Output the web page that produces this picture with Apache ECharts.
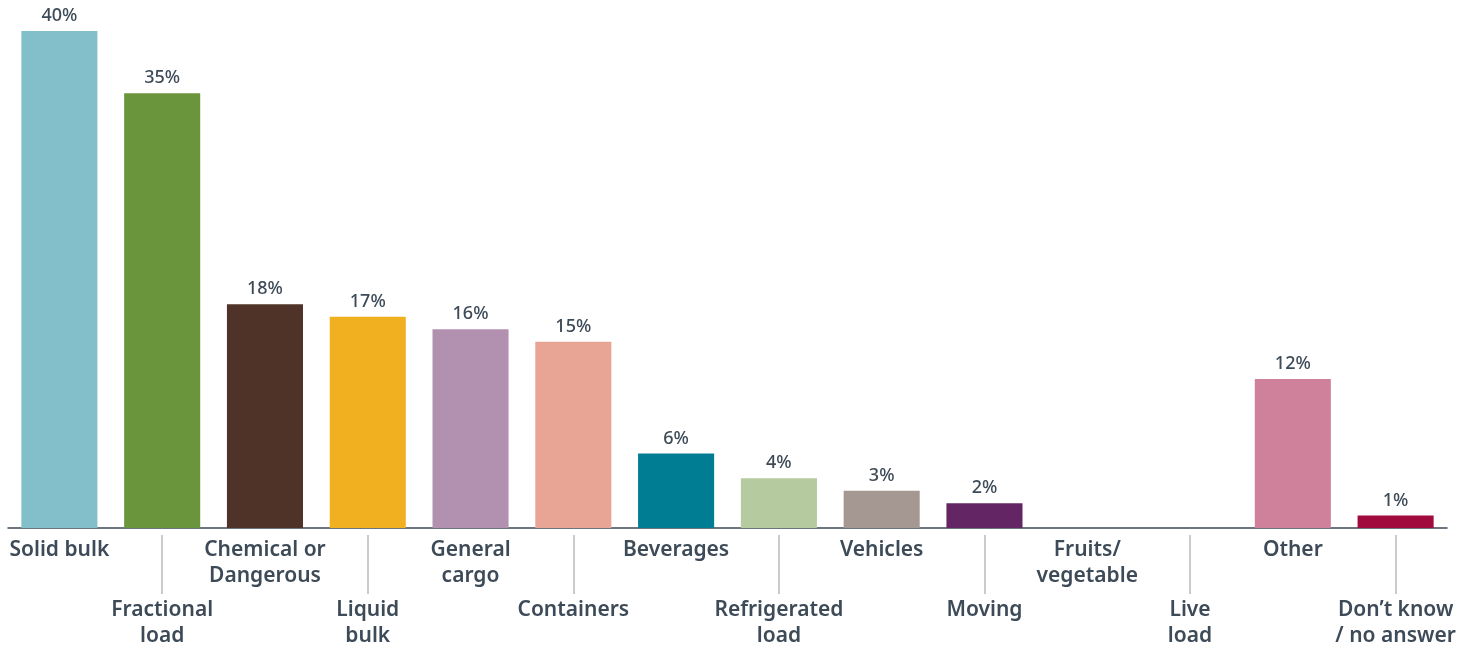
<!DOCTYPE html>
<html>
<head>
<meta charset="utf-8">
<style>
  html, body { margin: 0; padding: 0; background: #ffffff; }
  #chart { width: 1475px; height: 651px; }
</style>
<script src="https://cdn.jsdelivr.net/npm/echarts@6/dist/echarts.min.js"></script>
</head>
<body>
<div id="chart"></div>
<script>
// Cargo types carried (share of respondents, %)
const categories = [
  'Solid bulk', 'Fractional\nload', 'Chemical or\nDangerous', 'Liquid\nbulk',
  'General\ncargo', 'Containers', 'Beverages', 'Refrigerated\nload',
  'Vehicles', 'Moving', 'Fruits/\nvegetable', 'Live\nload',
  'Other', 'Don\u2019t know\n/ no answer'
];
const values = [40, 35, 18, 17, 16, 15, 6, 4, 3, 2, 0, 0, 12, 1];
const colors = [
  '#82bfca', '#6b953d', '#4f3328', '#f0b01f', '#b290b0', '#e8a595', '#007d92',
  '#b5ca9e', '#a59893', '#642565', '#cccccc', '#cccccc', '#cf809b', '#a10a3c'
];

const textColor = '#3d4a57';
const fontFamily = '"Noto Sans", "Open Sans", sans-serif';

const chart = echarts.init(document.getElementById('chart'));

const catLabel = {
  interval: 0,
  color: textColor,
  fontFamily: fontFamily,
  fontSize: 21,
  fontWeight: 600,
  lineHeight: 26
};

chart.setOption({
  animation: false,
  grid: { left: 8, right: 28, top: 31, bottom: 123, containLabel: false },
  xAxis: [
    {
      type: 'category',
      data: categories,
      axisLine: { show: true, lineStyle: { color: textColor, width: 1.5 } },
      axisTick: { show: false },
      axisLabel: Object.assign({}, catLabel, {
        margin: 9,
        formatter: (v, i) => (i % 2 === 0 ? v : '')
      })
    },
    {
      type: 'category',
      data: categories,
      position: 'bottom',
      offset: 7,
      axisLine: { show: false },
      axisTick: {
        show: true,
        alignWithLabel: true,
        length: 59,
        interval: (i) => i % 2 === 1,
        lineStyle: { color: '#b8bbbe', width: 1.5 }
      },
      axisLabel: Object.assign({}, catLabel, {
        margin: 62,
        formatter: (v, i) => (i % 2 === 1 ? v : '')
      })
    }
  ],
  yAxis: {
    type: 'value',
    min: 0,
    max: 40,
    show: false,
    splitLine: { show: false }
  },
  series: [
    {
      type: 'bar',
      xAxisIndex: 0,
      data: values.map((v, i) => ({ value: v, itemStyle: { color: colors[i] } })),
      barCategoryGap: '26%',
      label: {
        show: true,
        position: 'top',
        distance: 6,
        color: textColor,
        fontFamily: fontFamily,
        fontSize: 18,
        fontWeight: 500,
        formatter: (p) => (p.value > 0 ? p.value + '%' : '')
      }
    }
  ]
});
</script>
</body>
</html>
